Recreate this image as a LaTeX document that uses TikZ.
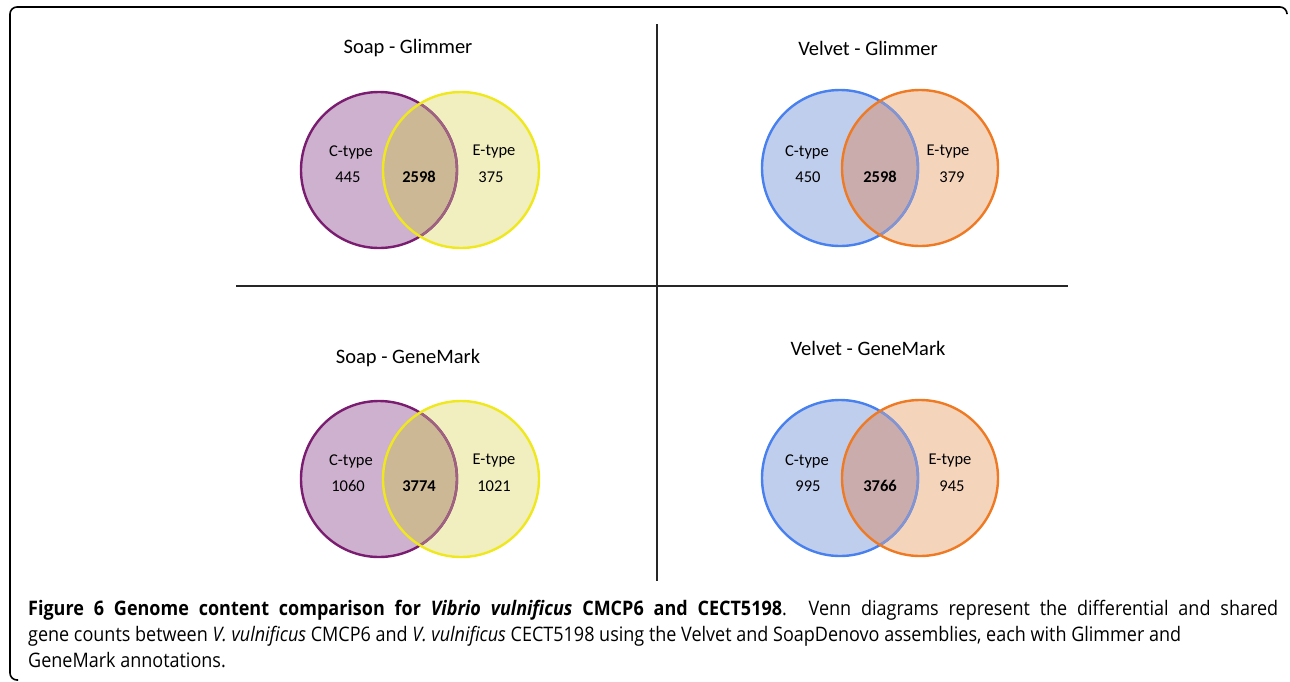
\documentclass[tikz,border=0pt]{standalone}
\usepackage{fontspec}
\setmainfont{Carlito}
\newfontfamily\capfont[FakeStretch=0.9]{Open Sans}
\usetikzlibrary{positioning}

\definecolor{soapc}{RGB}{205,177,207}
\definecolor{soapcline}{RGB}{122,28,112}
\definecolor{soape}{RGB}{241,239,191}
\definecolor{soapeline}{RGB}{240,232,30}
\definecolor{soapboth}{RGB}{204,184,148}
\definecolor{velc}{RGB}{192,206,238}
\definecolor{velcline}{RGB}{72,128,238}
\definecolor{vele}{RGB}{245,212,188}
\definecolor{veleline}{RGB}{238,122,36}
\definecolor{velboth}{RGB}{202,172,172}

\tikzset{
	venn/.style={circle,minimum size=156pt,inner sep=0pt,outer sep=0pt,line width=2.4pt},
	lbl/.style={font=\fontsize{16.5}{19}\selectfont},
	num/.style={font=\fontsize{16.5}{19}\selectfont\bfseries},
	ttl/.style={font=\fontsize{20.5}{24}\selectfont},
	divider/.style={line width=2pt,black!85}
}

\begin{document}
\begin{tikzpicture}[x=1pt,y=-1pt]
	\useasboundingbox (0,0) rectangle (1290,681);
	\draw[line width=1.6pt,rounded corners=7pt] (18,680) -- (10,680) -- (10,7) -- (1287,7) -- (1287,13);

	% Soap - Glimmer
	\node [ttl] at (408,48) (sg_ttl) {Soap - Glimmer};
	\node [venn,fill=soapc] at (379,170) (sg_c) {};
	\node [venn,fill=soape] at (461,170) (sg_e) {};
	\begin{scope}
		\clip (sg_c.center) circle (78);
		\fill [soapboth] (sg_e.center) circle (78);
	\end{scope}
	\draw [line width=2.4pt,soapcline] (sg_c.center) circle (78);
	\begin{scope}
		\clip (sg_e.center) circle (78);
		\draw [line width=2.4pt,soapcline!55!soapboth] (sg_c.center) circle (78);
	\end{scope}
	\draw [line width=2.4pt,soapeline] (sg_e.center) circle (78);
	\node [lbl] at (351,152) (sg_c_txt) {C-type};
	\node [lbl] at (348,177) (sg_c_num) {445};
	\node [num] at (419,177) (sg_both) {2598};
	\node [lbl] at (494,152) (sg_e_txt) {E-type};
	\node [lbl] at (491,177) (sg_e_num) {375};

	% Velvet - Glimmer
	\node [ttl] at (868,48) (vg_ttl) {Velvet - Glimmer};
	\node [venn,fill=velc] at (840,168) (vg_c) {};
	\node [venn,fill=vele] at (920,168) (vg_e) {};
	\begin{scope}
		\clip (vg_c.center) circle (78);
		\fill [velboth] (vg_e.center) circle (78);
	\end{scope}
	\draw [line width=2.4pt,velcline] (vg_c.center) circle (78);
	\begin{scope}
		\clip (vg_e.center) circle (78);
		\draw [line width=2.4pt,velcline!55!velboth] (vg_c.center) circle (78);
	\end{scope}
	\draw [line width=2.4pt,veleline] (vg_e.center) circle (78);
	\node [lbl] at (807,152) (vg_c_txt) {C-type};
	\node [lbl] at (808,177) (vg_c_num) {450};
	\node [num] at (880,177) (vg_both) {2598};
	\node [lbl] at (948,152) (vg_e_txt) {E-type};
	\node [lbl] at (952,177) (vg_e_num) {379};

	% Soap - GeneMark
	\node [ttl] at (408,358) (sm_ttl) {Soap - GeneMark};
	\node [venn,fill=soapc] at (379,479) (sm_c) {};
	\node [venn,fill=soape] at (461,479) (sm_e) {};
	\begin{scope}
		\clip (sm_c.center) circle (78);
		\fill [soapboth] (sm_e.center) circle (78);
	\end{scope}
	\draw [line width=2.4pt,soapcline] (sm_c.center) circle (78);
	\begin{scope}
		\clip (sm_e.center) circle (78);
		\draw [line width=2.4pt,soapcline!55!soapboth] (sm_c.center) circle (78);
	\end{scope}
	\draw [line width=2.4pt,soapeline] (sm_e.center) circle (78);
	\node [lbl] at (351,461) (sm_c_txt) {C-type};
	\node [lbl] at (348,486) (sm_c_num) {1060};
	\node [num] at (419,486) (sm_both) {3774};
	\node [lbl] at (494,461) (sm_e_txt) {E-type};
	\node [lbl] at (494,486) (sm_e_num) {1021};

	% Velvet - GeneMark
	\node [ttl] at (868,348) (vm_ttl) {Velvet - GeneMark};
	\node [venn,fill=velc] at (840,478) (vm_c) {};
	\node [venn,fill=vele] at (920,478) (vm_e) {};
	\begin{scope}
		\clip (vm_c.center) circle (78);
		\fill [velboth] (vm_e.center) circle (78);
	\end{scope}
	\draw [line width=2.4pt,velcline] (vm_c.center) circle (78);
	\begin{scope}
		\clip (vm_e.center) circle (78);
		\draw [line width=2.4pt,velcline!55!velboth] (vm_c.center) circle (78);
	\end{scope}
	\draw [line width=2.4pt,veleline] (vm_e.center) circle (78);
	\node [lbl] at (807,461) (vm_c_txt) {C-type};
	\node [lbl] at (808,486) (vm_c_num) {995};
	\node [num] at (880,486) (vm_both) {3766};
	\node [lbl] at (950,461) (vm_e_txt) {E-type};
	\node [lbl] at (952,486) (vm_e_num) {945};

	% dividers
	\coordinate (div_top) at (657,24);
	\coordinate (div_bot) at (657,581);
	\coordinate (div_left) at (236,286);
	\coordinate (div_right) at (1068,286);
	\draw [divider] (div_top) -- (div_bot);
	\draw [divider] (div_left) -- (div_right);

	% caption
	\node [anchor=north west,inner sep=0pt,text width=1250pt,align=justify,
		font=\capfont\fontsize{20}{26}\selectfont] at (28,600) (caption)
		{\textbf{Figure 6 Genome content comparison for \textit{Vibrio vulnificus} CMCP6 and CECT5198}. Venn diagrams represent the differential and shared\linebreak
		gene counts between \textit{V. vulnificus} CMCP6 and \textit{V. vulnificus} CECT5198 using the Velvet and SoapDenovo assemblies, each with Glimmer and\newline
		GeneMark annotations.};
\end{tikzpicture}
\end{document}
